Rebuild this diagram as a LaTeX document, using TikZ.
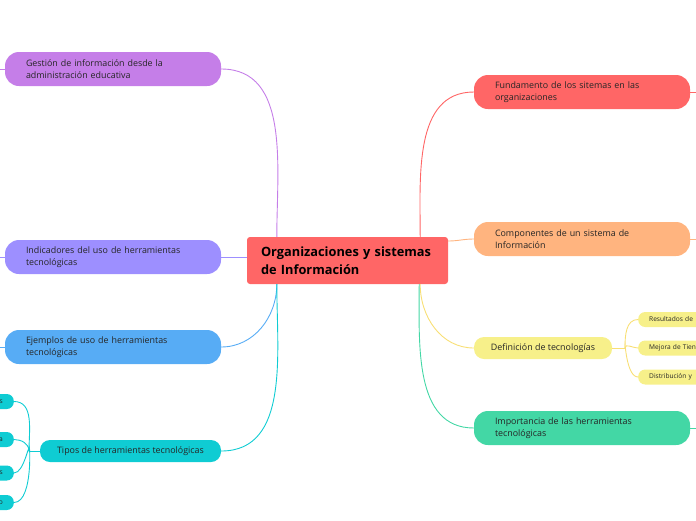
\documentclass[tikz,border=0pt]{standalone}
\usepackage{fontspec}
\setmainfont{Open Sans}
\usepackage{tikz}

\definecolor{cRed}{HTML}{FF6666}
\definecolor{cPurple}{HTML}{C57EE8}
\definecolor{cLav}{HTML}{9D8FFF}
\definecolor{cBlue}{HTML}{57ACF5}
\definecolor{cCyan}{HTML}{0FCCD3}
\definecolor{cOrange}{HTML}{FFB47F}
\definecolor{cYellow}{HTML}{F7F08A}
\definecolor{cGreen}{HTML}{43D7A5}

\begin{document}
\begin{tikzpicture}[
		x=1pt, y=-1pt,
		every node/.style={rectangle, inner sep=0pt, text=black!85},
		topic/.style={rounded corners=14pt, minimum height=34pt, inner xsep=21pt,
			text width=174pt, align=left, font=\fontsize{8.9}{12}\selectfont},
		short/.style={rounded corners=10pt, minimum height=22pt, align=center,
			font=\fontsize{8.9}{12}\selectfont},
		leaf/.style={rounded corners=7pt, minimum height=15pt, inner xsep=11pt,
			font=\fontsize{6.6}{8}\selectfont},
		link/.style={line width=0.9pt}
	]
  \useasboundingbox (0, 0) rectangle (696, 520);

  % central topic
  \node (org) [fill=cRed, rounded corners=3pt, minimum height=47pt, inner xsep=14pt,
  	text width=173pt, align=left, font=\fontsize{12.8}{18}\selectfont\bfseries, text=black]
  	at (347.5, 260.5) {Organizaciones y sistemas\\de Información};

  % left side
  \node (gest) [topic, fill=cPurple] at (113, 69) {Gestión de información desde la\\administración educativa};
  \node (indic) [topic, fill=cLav] at (113, 257) {Indicadores del uso de herramientas\\tecnológicas};
  \node (ejem) [topic, fill=cBlue] at (113, 347) {Ejemplos de uso de herramientas\\tecnológicas};
  \node (tipos) [short, fill=cCyan, minimum width=181pt] at (130.5, 451) {Tipos de herramientas tecnológicas};

  % right side
  \node (fund) [topic, fill=cRed] at (582, 92) {Fundamento de los sitemas en las\\organizaciones};
  \node (comp) [topic, fill=cOrange] at (582, 239) {Componentes de un sistema de\\Información};
  \node (defi) [short, fill=cYellow, minimum width=138pt] at (543, 348) {Definición de tecnologías};
  \node (impo) [topic, fill=cGreen] at (582, 428) {Importancia de las herramientas\\tecnológicas};

  % leaves of Definición
  \node (res) [leaf, fill=cYellow, anchor=west, minimum width=90pt, text width=68pt, align=left] at (638, 319.5) {Resultados de};
  \node (mej) [leaf, fill=cYellow, anchor=west, minimum width=90pt, text width=68pt, align=left] at (638, 348) {Mejora de Tien};
  \node (dis) [leaf, fill=cYellow, anchor=west, minimum width=90pt, text width=68pt, align=left] at (638, 377) {Distribución y};

  % leaves of Tipos
  \node (ta) [leaf, fill=cCyan, anchor=east, minimum width=60pt, text width=38pt, align=right, inner xsep=10pt] at (14, 401.5) {s};
  \node (tb) [leaf, fill=cCyan, anchor=east, minimum width=60pt, text width=38pt, align=right, inner xsep=10pt] at (14, 439.5) {a};
  \node (tc) [leaf, fill=cCyan, anchor=east, minimum width=60pt, text width=38pt, align=right, inner xsep=10pt] at (14, 473) {s};
  \node (td) [leaf, fill=cCyan, anchor=east, minimum width=60pt, text width=38pt, align=right, inner xsep=10pt] at (14, 502.5) {o};

  \coordinate (hubT) at (29, 451);
  \coordinate (hubD) at (625, 348);
  \coordinate (edgeL1) at (0, 69);
  \coordinate (edgeL2) at (0, 257);
  \coordinate (edgeL3) at (0, 347);
  \coordinate (edgeR1) at (696, 92);
  \coordinate (edgeR2) at (696, 239);
  \coordinate (edgeR3) at (696, 428);

  % branches
  \draw [link, cPurple] (gest.east) to [out=0, in=90] ([xshift=30pt]org.north west);
  \draw [link, cLav] (indic.east) -- (indic.east -| org.west);
  \draw [link, cBlue] (ejem.east) to [out=0, in=-90] ([xshift=30pt]org.south west);
  \draw [link, cCyan] (tipos.east) to [out=0, in=-90] ([xshift=30pt]org.south west);
  \draw [link, cRed] ([xshift=-28pt]org.north east) to [out=90, in=180] (fund.west);
  \draw [link, cOrange] ([yshift=-2pt]org.east |- comp.west) to [out=0, in=180] (comp.west);
  \draw [link, cYellow!85!orange] ([xshift=-28pt]org.south east) to [out=-90, in=180] (defi.west);
  \draw [link, cGreen] ([xshift=-29pt]org.south east) to [out=-90, in=180] (impo.west);

  % sub branches
  \draw [link, cCyan] (tipos.west) -- (hubT);
  \foreach \t in {ta, tb, tc, td}
  	\draw [link, cCyan] (hubT) to [out=90, in=0] (\t.east);
  \draw [link, cYellow!85!orange] (defi.east) -- (hubD);
  \foreach \t in {res, mej, dis}
  	\draw [link, cYellow!85!orange] (hubD) to [out=90, in=180] (\t.west);

  % stubs off the page
  \draw [link, cPurple] (gest.west) -- (edgeL1);
  \draw [link, cLav] (indic.west) -- (edgeL2);
  \draw [link, cBlue] (ejem.west) -- (edgeL3);
  \draw [link, cRed] (fund.east) -- (edgeR1);
  \draw [link, cOrange] (comp.east) -- (edgeR2);
  \draw [link, cGreen] (impo.east) -- (edgeR3);
\end{tikzpicture}
\end{document}
